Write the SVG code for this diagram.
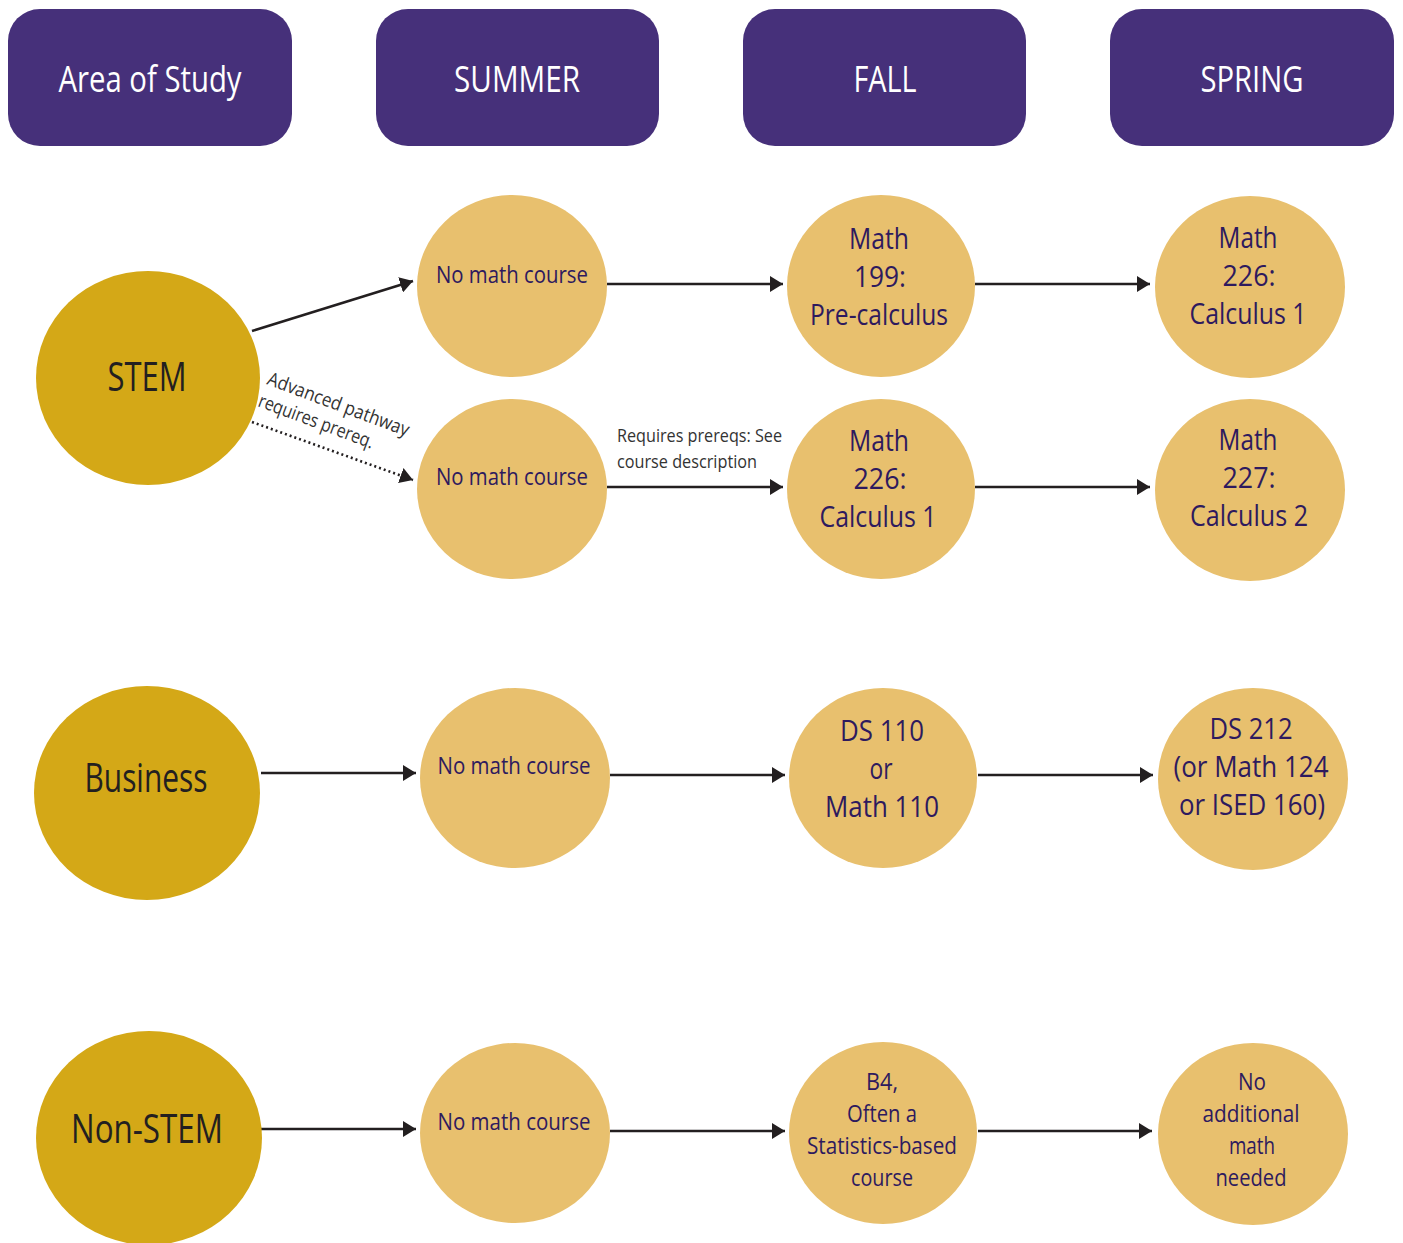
<svg xmlns="http://www.w3.org/2000/svg" width="1403" height="1243" viewBox="0 0 1403 1243">
<defs>
<style>
.hdr{fill:#46307A}
.hdr-t{font-family:"Open Sans","Liberation Sans",sans-serif;font-size:36px;fill:#FFFFFF;text-anchor:middle}
.area{fill:#D4A817}
.area-t{font-family:"Open Sans","Liberation Sans",sans-serif;font-size:40px;fill:#231F20;text-anchor:middle}
.crs{fill:#E8C06E}
.crs-t{font-family:"Open Sans","Liberation Sans",sans-serif;font-size:30px;fill:#2E1A5E;text-anchor:middle}
.crs-s{font-family:"Open Sans","Liberation Sans",sans-serif;font-size:24px;fill:#2E1A5E;text-anchor:middle}
.crs-m{font-family:"Open Sans","Liberation Sans",sans-serif;font-size:24px;fill:#2E1A5E;text-anchor:middle}
.note{font-family:"Open Sans","Liberation Sans",sans-serif;font-size:19px;fill:#333333}
.edge{stroke:#231F20;stroke-width:2.6;fill:none}
.dot{stroke:#231F20;stroke-width:2.6;fill:none;stroke-dasharray:2 3}
</style>
<marker id="ah" viewBox="0 0 13 16" refX="13" refY="8" markerWidth="13" markerHeight="16" markerUnits="userSpaceOnUse" orient="auto">
<path d="M0,0 L13,8 L0,16 Z" fill="#231F20"/>
</marker>
</defs>
<rect width="1403" height="1243" fill="#FFFFFF"/>

<g id="hdr-area"><rect class="hdr" x="8" y="9" width="284" height="137" rx="32"/><text class="hdr-t" x="150" y="92" textLength="183" lengthAdjust="spacingAndGlyphs">Area of Study</text></g>
<g id="hdr-summer"><rect class="hdr" x="376" y="9" width="283" height="137" rx="32"/><text class="hdr-t" x="517" y="92" textLength="126" lengthAdjust="spacingAndGlyphs">SUMMER</text></g>
<g id="hdr-fall"><rect class="hdr" x="743" y="9" width="283" height="137" rx="32"/><text class="hdr-t" x="885" y="92" textLength="63" lengthAdjust="spacingAndGlyphs">FALL</text></g>
<g id="hdr-spring"><rect class="hdr" x="1110" y="9" width="284" height="137" rx="32"/><text class="hdr-t" x="1252" y="92" textLength="103" lengthAdjust="spacingAndGlyphs">SPRING</text></g>

<g id="connectors">
<line class="edge" x1="252" y1="331" x2="413" y2="281" marker-end="url(#ah)"/>
<line class="dot" x1="252" y1="422" x2="413" y2="480" marker-end="url(#ah)"/>
<line class="edge" x1="607" y1="284" x2="783" y2="284" marker-end="url(#ah)"/>
<line class="edge" x1="975" y1="284" x2="1150" y2="284" marker-end="url(#ah)"/>
<line class="edge" x1="607" y1="487" x2="783" y2="487" marker-end="url(#ah)"/>
<line class="edge" x1="975" y1="487" x2="1150" y2="487" marker-end="url(#ah)"/>
<line class="edge" x1="261" y1="773" x2="416" y2="773" marker-end="url(#ah)"/>
<line class="edge" x1="610" y1="775" x2="785" y2="775" marker-end="url(#ah)"/>
<line class="edge" x1="978" y1="775" x2="1153" y2="775" marker-end="url(#ah)"/>
<line class="edge" x1="261" y1="1129" x2="416" y2="1129" marker-end="url(#ah)"/>
<line class="edge" x1="610" y1="1131" x2="785" y2="1131" marker-end="url(#ah)"/>
<line class="edge" x1="978" y1="1131" x2="1152" y2="1131" marker-end="url(#ah)"/>
<text class="note" transform="translate(266,384) rotate(20.5)" textLength="150" lengthAdjust="spacingAndGlyphs">Advanced pathway</text>
<text class="note" transform="translate(257,406) rotate(20.5)" textLength="122" lengthAdjust="spacingAndGlyphs">requires prereq.</text>
<text class="note" x="617" y="442" textLength="165" lengthAdjust="spacingAndGlyphs">Requires prereqs: See</text>
<text class="note" x="617" y="468" textLength="140" lengthAdjust="spacingAndGlyphs">course description</text>
</g>

<g id="stem"><ellipse class="area" cx="148" cy="378" rx="112" ry="107"/><text class="area-t" x="147" y="391" textLength="79" lengthAdjust="spacingAndGlyphs">STEM</text></g>
<g id="business"><ellipse class="area" cx="147" cy="793" rx="113" ry="107"/><text class="area-t" x="146" y="792" textLength="123" lengthAdjust="spacingAndGlyphs">Business</text></g>
<g id="nonstem"><ellipse class="area" cx="149" cy="1138" rx="113" ry="107"/><text class="area-t" x="147" y="1143" textLength="152" lengthAdjust="spacingAndGlyphs">Non-STEM</text></g>

<g id="stem-summer-1"><ellipse class="crs" cx="512" cy="286" rx="95" ry="91"/><text class="crs-s" x="512" y="283" textLength="152" lengthAdjust="spacingAndGlyphs">No math course</text></g>
<g id="stem-fall-1"><ellipse class="crs" cx="881" cy="286" rx="94" ry="91"/>
<text class="crs-t" x="879" y="249" textLength="60" lengthAdjust="spacingAndGlyphs">Math</text>
<text class="crs-t" x="880" y="287" textLength="52" lengthAdjust="spacingAndGlyphs">199:</text>
<text class="crs-t" x="879" y="325" textLength="138" lengthAdjust="spacingAndGlyphs">Pre-calculus</text></g>
<g id="stem-spring-1"><ellipse class="crs" cx="1250" cy="287" rx="95" ry="91"/>
<text class="crs-t" x="1248" y="248" textLength="59" lengthAdjust="spacingAndGlyphs">Math</text>
<text class="crs-t" x="1249" y="286" textLength="53" lengthAdjust="spacingAndGlyphs">226:</text>
<text class="crs-t" x="1248" y="324" textLength="117" lengthAdjust="spacingAndGlyphs">Calculus 1</text></g>

<g id="stem-summer-2"><ellipse class="crs" cx="512" cy="489" rx="95" ry="90"/><text class="crs-s" x="512" y="485" textLength="152" lengthAdjust="spacingAndGlyphs">No math course</text></g>
<g id="stem-fall-2"><ellipse class="crs" cx="881" cy="489" rx="94" ry="90"/>
<text class="crs-t" x="879" y="451" textLength="60" lengthAdjust="spacingAndGlyphs">Math</text>
<text class="crs-t" x="880" y="489" textLength="53" lengthAdjust="spacingAndGlyphs">226:</text>
<text class="crs-t" x="878" y="527" textLength="117" lengthAdjust="spacingAndGlyphs">Calculus 1</text></g>
<g id="stem-spring-2"><ellipse class="crs" cx="1250" cy="490" rx="95" ry="91"/>
<text class="crs-t" x="1248" y="450" textLength="59" lengthAdjust="spacingAndGlyphs">Math</text>
<text class="crs-t" x="1249" y="488" textLength="53" lengthAdjust="spacingAndGlyphs">227:</text>
<text class="crs-t" x="1249" y="526" textLength="118" lengthAdjust="spacingAndGlyphs">Calculus 2</text></g>

<g id="bus-summer"><ellipse class="crs" cx="515" cy="778" rx="95" ry="90"/><text class="crs-s" x="514" y="774" textLength="153" lengthAdjust="spacingAndGlyphs">No math course</text></g>
<g id="bus-fall"><ellipse class="crs" cx="883" cy="778" rx="94" ry="90"/>
<text class="crs-t" x="882" y="741" textLength="84" lengthAdjust="spacingAndGlyphs">DS 110</text>
<text class="crs-t" x="881" y="779" textLength="23" lengthAdjust="spacingAndGlyphs">or</text>
<text class="crs-t" x="882" y="817" textLength="114" lengthAdjust="spacingAndGlyphs">Math 110</text></g>
<g id="bus-spring"><ellipse class="crs" cx="1253" cy="779" rx="95" ry="91"/>
<text class="crs-t" x="1251" y="739" textLength="83" lengthAdjust="spacingAndGlyphs">DS 212</text>
<text class="crs-t" x="1251" y="777" textLength="155" lengthAdjust="spacingAndGlyphs">(or Math 124</text>
<text class="crs-t" x="1252" y="815" textLength="146" lengthAdjust="spacingAndGlyphs">or ISED 160)</text></g>

<g id="non-summer"><ellipse class="crs" cx="515" cy="1133" rx="95" ry="90"/><text class="crs-s" x="514" y="1130" textLength="153" lengthAdjust="spacingAndGlyphs">No math course</text></g>
<g id="non-fall"><ellipse class="crs" cx="883" cy="1133" rx="94" ry="91"/>
<text class="crs-m" x="882" y="1090" textLength="32" lengthAdjust="spacingAndGlyphs">B4,</text>
<text class="crs-m" x="882" y="1122" textLength="70" lengthAdjust="spacingAndGlyphs">Often a</text>
<text class="crs-m" x="882" y="1154" textLength="150" lengthAdjust="spacingAndGlyphs">Statistics-based</text>
<text class="crs-m" x="882" y="1186" textLength="62" lengthAdjust="spacingAndGlyphs">course</text></g>
<g id="non-spring"><ellipse class="crs" cx="1253" cy="1134" rx="95" ry="91"/>
<text class="crs-m" x="1252" y="1090" textLength="28" lengthAdjust="spacingAndGlyphs">No</text>
<text class="crs-m" x="1251" y="1122" textLength="97" lengthAdjust="spacingAndGlyphs">additional</text>
<text class="crs-m" x="1252" y="1154" textLength="46" lengthAdjust="spacingAndGlyphs">math</text>
<text class="crs-m" x="1251" y="1186" textLength="71" lengthAdjust="spacingAndGlyphs">needed</text></g>
</svg>
